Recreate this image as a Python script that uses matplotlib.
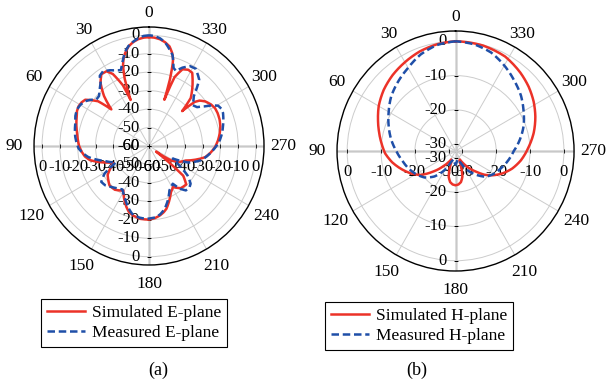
import matplotlib

matplotlib.use("Agg")

import matplotlib.pyplot as plt
import matplotlib.transforms as mtransforms
import numpy as np

plt.rcParams['font.family'] = ['Liberation Serif', 'DejaVu Serif']

# (a) E-plane, angle in degrees, gain in dB
e_sim_ang = [0, 3, 6, 9, 12, 15, 17, 18.5, 20.5, 21.5, 22.5, 24, 27.5, 30.5, 34.5, 38.5, 43, 46.8,
             49.7, 55, 58, 61.5, 65, 68, 74, 80, 85, 90, 95, 99, 103, 106, 112, 115, 124, 134, 141,
             147, 149, 155, 159, 162.5, 167, 173, 180, 185, 189, 193, 196, 201, 206, 211, 218, 225,
             230, 233, 238, 243, 249, 259, 264, 269, 274.5, 280, 285, 290, 295, 299, 303, 307.5,
             311, 313, 315.5, 318, 323, 328.6, 332, 335.7, 339, 340.5, 341, 342, 343.3, 344,
             345.5, 348, 351, 354, 357, 360]
e_sim_db = [-1, -1.2, -1.8, -3, -4.8, -8, -11, -14, -21, -27, -33, -24, -16, -13, -12.8, -16.3, -23, -31,
            -22.5, -16.3, -15.4, -15, -15.4, -16.3, -17.6, -19, -19.9, -20.8, -22.2, -23.6, -26, -29.3, -36, -38, -32, -29.2, -29.5,
            -31.2, -32, -27.4, -24.6, -22.5, -21.2, -20.2, -20.1, -20.8, -21.8, -23.2, -24.6, -28.3, -32, -34, -31, -30.5,
            -35, -55, -45, -41, -38, -28, -25.3, -23, -21.2, -19.7, -18.6, -17.9, -17.6, -17.7, -18.6, -20.3,
            -22.5, -25, -33.5, -25, -19.5, -13.5, -13.2, -14.4, -20, -30, -33.5, -22, -14, -11,
            -8, -4.8, -3, -1.8, -1.2, -1]

e_meas_ang = [0, 3, 6, 9, 12, 15, 18, 21, 25, 28, 32.5, 36, 38.4, 42, 46, 49.6, 53, 56, 60, 64,
              68.5, 73, 78, 83, 87.5, 92, 96, 100, 108, 115.7, 121, 126, 131, 136, 142, 147.6, 152,
              156, 161, 165.6, 172, 178, 186, 190, 194.4, 199.7, 205.5, 213, 217, 220.6, 225, 228.8,
              233.6, 238, 243, 248, 255, 260, 265, 270, 274.7, 279.5, 284.3, 289, 293.3, 296.5,
              299.4, 302, 304.3, 308, 312, 317, 322, 328, 332, 336.2, 339.6, 342, 345, 349, 351,
              354, 357, 360]
e_meas_db = [0, -0.3, -1.3, -2.8, -4.6, -7.5, -12, -16, -14.8, -13.5, -12, -13, -16.3, -18.7, -21, -21.2, -18.5, -16.7, -15.5, -15,
             -15.6, -16.8, -17.5, -18.3, -19.3, -20.5, -22.7, -25.4, -33.8, -39.4, -30.9, -26.9, -27.5, -29.2, -31, -32.1, -30,
             -27.7, -24.5, -22, -20.8, -20.5, -21.2, -22.6, -24.8, -28.7, -33.4, -35.6, -31, -28.3, -28, -29,
             -33.2, -40, -45, -36, -30, -27.2, -24.7, -22.2, -20.1, -18.5, -17.2, -15.9, -14.8, -14.7,
             -15.5, -18.5, -21.9, -25.8, -27, -23.2, -14.3, -10.6, -11, -13.6, -16.6, -15.5, -9, -5, -3,
             -1.3, -0.3, 0]

# (b) H-plane
h_sim_ang = [0, 10, 20, 30, 40, 50, 60, 68, 76, 84, 92, 100, 108, 116, 124, 132, 140, 147, 153,
             158, 162, 165, 170, 175, 180, 185, 190, 195, 198, 202, 207, 213, 219, 225, 231, 237,
             245, 253, 262, 273, 283, 293, 302, 311, 320, 332, 345, 360]
h_sim_db = [0, -0.4, -1.1, -2.1, -3.1, -4.3, -5.8, -7.3, -8.7, -10, -11.2, -13, -15.1, -17.2, -19.5, -23, -26, -28, -29.2,
            -29, -26, -24.2, -22.8, -22.2, -22, -22.2, -22.8, -24.2, -26, -29, -29.2, -27.5, -25.5, -23.5, -21, -19,
            -16.6, -14.5, -12.5, -10.4, -8.3, -6.4, -4.8, -3.4, -2.2, -0.8, -0.2, 0]

h_meas_ang = [0, 10, 20, 30, 40, 50, 60, 70, 80, 90, 100, 110, 120, 130, 140, 150, 157, 165, 172,
              180, 188, 195, 203, 210, 218, 230, 240, 250, 260, 270, 280, 290, 300, 310, 320, 330,
              340, 350, 360]
h_meas_db = [0, -0.6, -2, -4, -5.6, -7.2, -9.2, -11, -12.7, -14.5, -16, -17.2, -18.5, -20, -22.3, -25.6, -28.5, -29.5, -29,
             -28, -29, -29.5, -28.5, -26, -23.7, -20.3, -18.8, -17.6, -16.2, -14.8, -12.7, -10.6, -8.8, -6.8, -5.1, -3.2,
             -1.4, -0.4, 0]

angle_ticks = list(range(0, 360, 30))
e_rticks = [-60, -50, -40, -30, -20, -10, 0]
h_rticks = [-30, -20, -10, 0]

red = '#ec3228'
blue = '#1f4fa8'

fig = plt.figure(figsize=(6.12, 3.85), dpi=100)
ax_a = fig.add_axes([0.0556, 0.3117, 0.3758, 0.6182], projection='polar')
ax_b = fig.add_axes([0.5507, 0.2961, 0.3873, 0.6234], projection='polar')
ax_a.set_aspect('auto')
ax_b.set_aspect('auto')


def style_polar(ax, rmin, rmax, rticks):
    ax.set_theta_zero_location('N')
    ax.set_theta_direction(1)
    ax.set_rlim(rmin, rmax)
    ax.set_rticks(rticks)
    ax.set_yticklabels([])
    ax.set_thetagrids(angle_ticks, [''] * len(angle_ticks))
    ax.tick_params(axis='x', direction='out', length=4, width=0.8)
    ax.grid(True, color='#cccccc', lw=0.7)
    ax.spines['polar'].set_color('black')
    ax.spines['polar'].set_linewidth(1.0)
    for a in (0, 90, 180, 270):
        ax.axvline(np.deg2rad(a), color='#555555', lw=1.0, zorder=1)

    # angle labels, centred just outside the rim
    for a in angle_ticks:
        th = np.deg2rad(a)
        d = (14 + 5.5 * np.sin(th) ** 2 + 5 * max(0.0, -np.cos(th))) / 1.389
        tr = mtransforms.offset_copy(ax.transData, fig=fig, x=-np.sin(th) * d, y=np.cos(th) * d,
                                     units='points')
        ax.text(th, rmax, str(a), transform=tr, ha='center', va='center', fontsize=12.5)

    # dB labels along the vertical and horizontal axis lines
    left = mtransforms.offset_copy(ax.transData, fig=fig, x=-6.5, y=0, units='points')
    below = mtransforms.offset_copy(ax.transData, fig=fig, x=0, y=-15, units='points')
    for v in rticks:
        lab = f"{v:g}"
        for th in (0, np.pi):
            ax.text(th, v, lab, transform=left, ha='right', va='center', fontsize=12, zorder=2)
        for th in (np.pi / 2, 3 * np.pi / 2):
            ax.text(th, v, lab, transform=below, ha='center', va='center', fontsize=12, zorder=2)
    n = len(rticks)
    ax.plot([0] * n + [np.pi] * n, rticks * 2, ls='none', marker='_', color='k', ms=3, mew=0.6, zorder=2)
    ax.plot([np.pi / 2] * n + [3 * np.pi / 2] * n, rticks * 2, ls='none', marker='|', color='k',
            ms=3, mew=0.6, zorder=2)


style_polar(ax_a, -60, 4.5, e_rticks)
style_polar(ax_b, -32, 3, h_rticks)

curves = []
curves += ax_a.plot(np.deg2rad(e_sim_ang), e_sim_db, color=red, lw=1.8, label='Simulated E-plane', zorder=3)
curves += ax_a.plot(np.deg2rad(e_meas_ang), e_meas_db, color=blue, lw=1.8, ls=(0, (3, 1.5)),
                    label='Measured E-plane', zorder=4)
curves += ax_b.plot(np.deg2rad(h_sim_ang), h_sim_db, color=red, lw=1.8, label='Simulated H-plane', zorder=3)
curves += ax_b.plot(np.deg2rad(h_meas_ang), h_meas_db, color=blue, lw=1.8, ls=(0, (3, 1.5)),
                    label='Measured H-plane', zorder=4)
# draw segments as arcs in polar space
for ln in curves:
    ln.get_path()._interpolation_steps = 8

for ax, cx, cy in ((ax_a, 0.219, 0.161), (ax_b, 0.685, 0.153)):
    leg = ax.legend(loc='center', bbox_to_anchor=(cx, cy), bbox_transform=fig.transFigure,
                    frameon=True, fancybox=False, edgecolor='black', framealpha=1, fontsize=12.5,
                    handlelength=2.2, handletextpad=0.4, borderpad=0.35, labelspacing=0.25,
                    borderaxespad=0)
    leg.get_frame().set_linewidth(0.8)

fig.text(0.258, 0.039, '(a)', ha='center', va='center', fontsize=13)
fig.text(0.681, 0.039, '(b)', ha='center', va='center', fontsize=13)

fig.savefig("out.png", dpi=100)
